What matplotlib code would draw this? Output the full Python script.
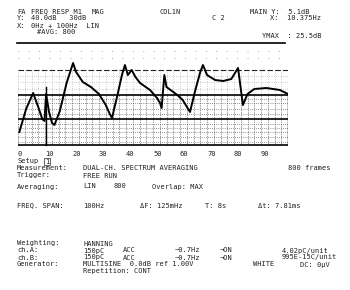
import matplotlib.pyplot as plt
import numpy as np

# curve (x in Hz, level in dB)
freq = [0.5, 3, 5.6, 7.5, 9.0, 9.8, 10.4, 11.5, 12.6, 13.5, 15.5, 18, 20.4, 21.5,
        24, 27, 30, 32.5, 34, 34.8, 36.5, 38.5, 39.6, 40.7, 42.1, 43.5, 45.2, 48.9,
        51.5, 52.6, 53.2, 54.2, 55, 57, 59, 61, 63.7, 65.5, 67.5, 68.5, 70, 73, 76,
        79, 81.5, 83.3, 85, 87.5, 92, 97, 100]
level = [-4, 5.2, 11.6, 6, 1.2, 0.4, 11.2, 4, -0.4, -1.2, 4.4, 15.6, 23.6, 20,
         16, 14, 11.2, 6.8, 3.2, 1.6, 9.2, 18.8, 22.8, 18.8, 20.8, 18, 15.6, 12.8,
         9.6, 7.6, 5.6, 18.8, 14, 12.4, 10.8, 8.8, 4, 12, 20, 22.8, 18.8, 16.8, 16.4,
         17.2, 21.6, 6.8, 11.2, 13.2, 13.6, 12.8, 11.2]
tick_vals = [0, 10, 20, 30, 40, 50, 60, 70, 80, 90]
cursor_x = 10.375

W, H = 350, 290
fig = plt.figure(figsize=(W / 100, H / 100), dpi=100)
fnt = dict(family='DejaVu Sans Mono', size=5, color='#222222')


def txt(x, y, s, **kw):
    # place text at pixel coords of the printout (y = middle of caps)
    fig.text(x / W, 1 - (y + 2.5) / H, s, va='baseline', ha='left', **fnt, **kw)


def lv(d):  # divisions -> dB
    return -10 + 4 * d


# plot area: 0..100 Hz, 10.4 divisions tall
ax = fig.add_axes([18 / W, 1 - 147 / H, 270 / W, 104 / H])
ax.set_xlim(0, 100)
ax.set_ylim(lv(0), lv(10.4))
ax.axis('off')

# dotted texture
for xv in np.arange(0, 100.1, 2.5):
    ax.plot([xv, xv], [lv(0.2), lv(5.2)], color='#333333', lw=0.5, ls=(0, (1, 1.5)))
    ax.plot([xv, xv], [lv(5.2), lv(7.7)], color='#666666', lw=0.4, ls=(0, (1, 3)))
for yv in [0.5, 1.0, 1.5, 1.9, 2.3, 3.3, 3.8, 4.4, 4.8]:
    ax.plot([0, 100], [lv(yv), lv(yv)], color='#333333', lw=0.5, ls=(0, (1, 2)))
for yv in [5.8, 6.5, 7.1]:
    ax.plot([0, 100], [lv(yv), lv(yv)], color='#666666', lw=0.4, ls=(0, (1, 3)))
for yv in [8.9, 9.6]:
    ax.plot([0, 100], [lv(yv), lv(yv)], color='#555555', lw=0.5, ls=(0, (1, 14)))

ax.plot([0, 100], [lv(7.7), lv(7.7)], color='#222222', lw=0.8, ls=(0, (5, 2)))
for yv in [5.2, 2.8, 0.2]:
    ax.plot([0, 100], [lv(yv), lv(yv)], color='black', lw=1.2)
ax.plot([100, 100], [lv(0.2), lv(5.2)], color='black', lw=1.0)
ax.plot([cursor_x, cursor_x], [lv(0.2), lv(6.0)], color='black', lw=1.0)

ax.plot(freq, level, color='black', lw=1.4)

for t in tick_vals:
    txt(18 + t * 2.7, 154, str(t))

# header
fig.add_artist(plt.Line2D([17 / W, 285 / W], [1 - 43 / H, 1 - 43 / H], color='black', lw=1.2))
txt(17, 11, 'FA')
txt(31, 11, 'FREQ RESP M1')
txt(92, 11, 'MAG')
txt(160, 11, 'COL1N')
txt(250, 11, 'MAIN Y:  5.1dB')
txt(17, 18, 'Y:')
txt(31, 18, '40.0dB   30dB')
txt(212, 18, 'C 2')
txt(270, 18, 'X:  10.375Hz')
txt(17, 25, 'X:')
txt(31, 25, '0Hz + 100Hz  LIN')
txt(37, 32, '#AVG: 800')
txt(262, 35, 'YMAX  : 25.5dB')

# setup block
txt(17, 161, 'Setup')
txt(45, 161, '1', bbox=dict(boxstyle='square,pad=0.1', fc='none', ec='#222222', lw=0.5))
txt(17, 168, 'Measurement:')
txt(83, 168, 'DUAL-CH. SPECTRUM AVERAGING')
txt(288, 168, '800 frames')
txt(17, 175, 'Trigger:')
txt(83, 175, 'FREE RUN')
txt(17, 186, 'Averaging:')
txt(83, 186, 'LIN')
txt(113, 186, '800')
txt(152, 186, 'Overlap: MAX')
txt(17, 205, 'FREQ. SPAN:')
txt(83, 205, '100Hz')
txt(140, 205, 'ΔF: 125mHz')
txt(205, 205, 'T: 8s')
txt(258, 205, 'Δt: 7.81ms')
txt(17, 243, 'Weighting:')
txt(83, 243, 'HANNING')
for yy, ch, unit in [(250, 'ch.A:', '4.02pC/unit'), (257, 'ch.B:', '995E-15C/unit')]:
    txt(17, yy, ch)
    txt(83, yy, '150pC')
    txt(123, yy, 'ACC')
    txt(175, yy, '~0.7Hz')
    txt(220, yy, '¬ON')
    txt(282, yy, unit)
txt(17, 264, 'Generator:')
txt(83, 264, 'MULTISINE  0.0dB ref 1.00V')
txt(253, 264, 'WHITE')
txt(300, 264, 'DC: 0μV')
txt(83, 271, 'Repetition: CONT')

fig.savefig('out.png', dpi=100, facecolor='white')
